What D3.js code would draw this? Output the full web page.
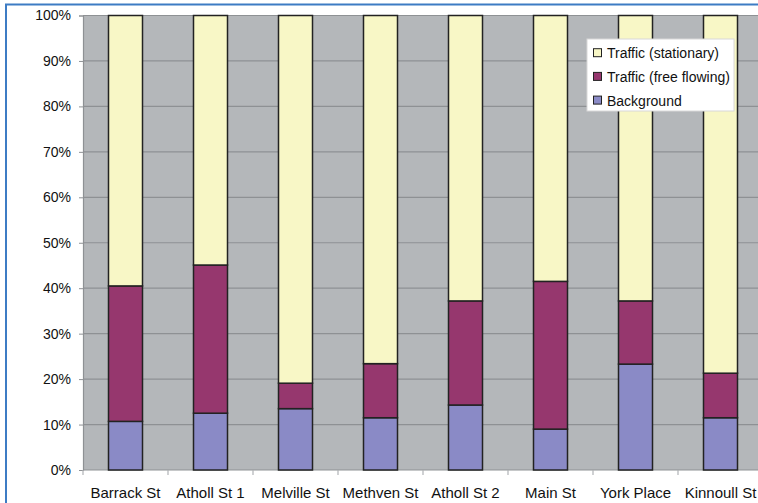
<!DOCTYPE html>
<html>
<head>
<meta charset="utf-8">
<script src="https://cdn.jsdelivr.net/npm/d3@7"></script>
<style>
  html, body { margin: 0; padding: 0; background: #fff; }
  svg { display: block; font-family: "Liberation Sans", Arial, sans-serif; }
</style>
</head>
<body>
<svg id="chart" width="758" height="503"></svg>
<script>
// Source apportionment by site (share of total, %)
const sites = ["Barrack St", "Atholl St 1", "Melville St", "Methven St", "Atholl St 2", "Main St", "York Place", "Kinnoull St"];
const background = [10.7, 12.5, 13.5, 11.5, 14.3, 9.0, 23.3, 11.5];
const freeFlowing = [29.8, 32.6, 5.6, 11.9, 22.9, 32.5, 13.9, 9.8];
const stationary = sites.map((s, i) => 100 - background[i] - freeFlowing[i]);
const yTicks = [0, 10, 20, 30, 40, 50, 60, 70, 80, 90, 100];

const seriesNames = ["Background", "Traffic (free flowing)", "Traffic (stationary)"];
const seriesColors = ["#8a8ac6", "#96376e", "#f8f7c6"];

const rows = sites.map((s, i) => ({
  site: s,
  "Background": background[i],
  "Traffic (free flowing)": freeFlowing[i],
  "Traffic (stationary)": stationary[i]
}));

const svg = d3.select("#chart");
const plot = { left: 83, right: 763, top: 15.5, bottom: 470 };

// frame
svg.append("path")
  .attr("d", "M6,503 V4.5 H758")
  .attr("fill", "none")
  .attr("stroke", "#3d7cc4")
  .attr("stroke-width", 2);

const x = d3.scaleBand().domain(sites).range([plot.left, plot.right]).padding(0);
const y = d3.scaleLinear().domain([0, 100]).range([plot.bottom, plot.top]);

// plot background
svg.append("rect")
  .attr("x", plot.left).attr("y", plot.top)
  .attr("width", plot.right - plot.left).attr("height", plot.bottom - plot.top)
  .attr("fill", "#b4b7ba");

// gridlines
svg.append("g").selectAll("line").data(yTicks.filter(t => t > 0)).join("line")
  .attr("x1", plot.left).attr("x2", plot.right)
  .attr("y1", d => y(d)).attr("y2", d => y(d))
  .attr("stroke", "#8e9194").attr("stroke-width", 1.2);

// y axis
const yAxis = svg.append("g")
  .attr("transform", `translate(${plot.left},0)`)
  .call(d3.axisLeft(y).tickValues(yTicks).tickFormat(d => d + "%").tickSize(4).tickPadding(8));
yAxis.select(".domain").attr("stroke", "#8e9194").attr("stroke-width", 1.2);
yAxis.selectAll(".tick line").attr("stroke", "#8e9194");
yAxis.selectAll("text").attr("font-size", 14).attr("fill", "#111")
  .attr("font-family", "Liberation Sans, Arial, sans-serif");

// x axis: labels centred on categories, ticks between them
const xAxis = svg.append("g")
  .attr("transform", `translate(0,${plot.bottom})`)
  .call(d3.axisBottom(x).tickSize(0).tickPadding(17));
xAxis.select(".domain").remove();
xAxis.selectAll("text").attr("font-size", 15).attr("fill", "#111")
  .attr("font-family", "Liberation Sans, Arial, sans-serif");
svg.append("line")
  .attr("x1", plot.left).attr("x2", plot.right)
  .attr("y1", plot.bottom).attr("y2", plot.bottom)
  .attr("stroke", "#8e9194").attr("stroke-width", 1.2);
svg.append("g").selectAll("line").data(sites).join("line")
  .attr("x1", d => x(d)).attr("x2", d => x(d))
  .attr("y1", plot.bottom).attr("y2", plot.bottom + 5)
  .attr("stroke", "#b0b3b6").attr("stroke-width", 1.2);

// stacked bars
const stack = d3.stack().keys(seriesNames);
const layers = stack(rows);
const barW = x.bandwidth() * 0.4;
svg.append("g").selectAll("g").data(layers).join("g")
  .attr("fill", (d, i) => seriesColors[i])
  .selectAll("rect").data(d => d).join("rect")
  .attr("x", d => x(d.data.site) + (x.bandwidth() - barW) / 2)
  .attr("width", barW)
  .attr("y", d => y(d[1]))
  .attr("height", d => y(d[0]) - y(d[1]))
  .attr("stroke", "#222")
  .attr("stroke-width", 1.5);

// legend
const legend = svg.append("g").attr("transform", "translate(587,39)");
legend.append("rect")
  .attr("width", 147).attr("height", 72)
  .attr("fill", "#fff").attr("stroke", "#d8d8d8").attr("stroke-width", 1);
const legendOrder = [2, 1, 0];
const li = legend.selectAll("g.item").data(legendOrder).join("g")
  .attr("class", "item")
  .attr("transform", (d, i) => `translate(0,${13.7 + i * 23.7})`);
li.append("rect")
  .attr("x", 6.5).attr("y", -4).attr("width", 8).attr("height", 8)
  .attr("fill", d => seriesColors[d]).attr("stroke", "#222").attr("stroke-width", 1);
li.append("text")
  .attr("x", 20).attr("y", 5.5)
  .attr("font-size", 14).attr("fill", "#111")
  .text(d => seriesNames[d]);
</script>
</body>
</html>
